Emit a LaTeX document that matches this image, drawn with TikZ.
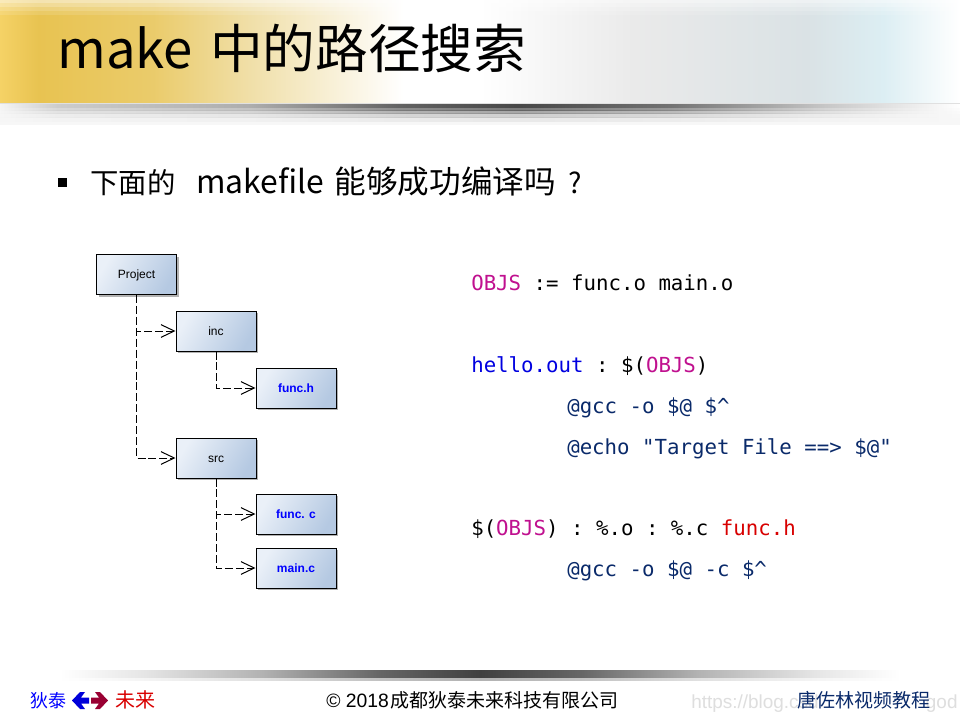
\documentclass[tikz,border=0pt]{standalone}
\usepackage{fontspec}
\setmainfont{Liberation Sans}
\newfontfamily\cjk{Noto Sans CJK SC}
\newfontfamily\codefont{DejaVu Sans Mono}
\usetikzlibrary{arrows.meta,shadows,calc}
\definecolor{kw}{HTML}{C0108F}
\definecolor{tg}{HTML}{0000E0}
\definecolor{cm}{HTML}{0A2A6A}
\definecolor{rd}{HTML}{D80000}
\definecolor{HeadA}{HTML}{F5D266}
\definecolor{HeadB}{HTML}{E8C351}
\definecolor{HeadC}{HTML}{F0DFA8}
\definecolor{HeadD}{HTML}{EAEAEA}
\definecolor{HeadE}{HTML}{DAE2E5}
\definecolor{HeadF}{HTML}{DCEEF3}
\definecolor{boxa}{HTML}{EAF0F8}
\definecolor{boxb}{HTML}{B5C9E2}
\pgfdeclarehorizontalshading{headband}{100bp}{
 color(0bp)=(HeadA);
 color(25bp)=(HeadA);
 color(27bp)=(HeadB);
 color(33bp)=(HeadB!70!HeadC);
 color(38bp)=(HeadC);
 color(46bp)=(white);
 color(50bp)=(white);
 color(58bp)=(HeadD);
 color(67bp)=(HeadE);
 color(71bp)=(HeadF);
 color(75bp)=(white);
 color(100bp)=(white)}
\pgfdeclarehorizontalshading{bandshade}{100bp}{
 color(0bp)=(white);
 color(25bp)=(white);
 color(30bp)=(black!10);
 color(37bp)=(black!30);
 color(44bp)=(black!60);
 color(50bp)=(black!75);
 color(56bp)=(black!60);
 color(63bp)=(black!30);
 color(70bp)=(black!10);
 color(75bp)=(white);
 color(100bp)=(white)}
\pgfdeclarehorizontalshading{headshadow}{100bp}{
 color(0bp)=(white);
 color(25bp)=(black!4);
 color(28bp)=(black!20);
 color(38bp)=(black!32);
 color(46bp)=(black!62);
 color(52bp)=(black!72);
 color(60bp)=(black!55);
 color(68bp)=(black!22);
 color(73bp)=(black!6);
 color(75bp)=(white);
 color(100bp)=(white)}
\tikzset{
 x=0.75pt,y=-0.75pt,
 box/.style={draw=black,line width=0.75pt,minimum width=60pt,minimum height=30pt,inner sep=0pt,
   text height=6.4pt,text depth=0.4pt,
   left color=boxa,right color=boxb,shading angle=60,
   drop shadow={shadow xshift=1.6pt,shadow yshift=-1.6pt,fill=black,opacity=.3},
   font=\fontsize{9}{11}\selectfont},
 filebox/.style={box,text=blue,font=\fontsize{9}{11}\selectfont\bfseries},
 link/.style={draw=black,line width=0.75pt,dash pattern=on 6pt off 2.2pt,-{Straight Barb[length=10pt,width=9.5pt,line width=0.75pt]}},
 code/.style={anchor=base west,inner sep=0pt,font=\codefont\fontsize{15.55}{18}\selectfont\frenchspacing,text=black},
 foot/.style={anchor=base west,inner sep=0pt,font=\cjk\fontsize{14.25}{18}\selectfont},
}
\begin{document}
\begin{tikzpicture}
\useasboundingbox (0,0) rectangle (960,720);
\fill[white] (0,0) rectangle (960,720);
% header
\shade[shading=headband] (0,0) rectangle (960,103);
\fill[white,opacity=.55] (0,0) rectangle (960,3);
\fill[white,opacity=.4] (0,3) rectangle (960,7);
\fill[white,opacity=.25] (0,7) rectangle (960,11);
\fill[white,opacity=.12] (0,11) rectangle (960,15);
% header shadow
\fill[black!3] (0,103) rectangle (960,125);
\fill[black!12] (0,103) rectangle (960,105);
\shade[shading=headshadow] (0,105) rectangle (960,108);
\shade[shading=headshadow,opacity=.7] (0,108) rectangle (960,111);
\shade[shading=headshadow,opacity=.45] (0,111) rectangle (960,114);
\shade[shading=headshadow,opacity=.22] (0,114) rectangle (960,118);
\shade[shading=headshadow,opacity=.08] (0,118) rectangle (960,122);
\node[anchor=base west,inner sep=0pt,font=\cjk\fontsize{39.5}{44}\selectfont] (title) at (57,69) {make\hspace{13pt}中的路径搜索};
% bullet
\fill[black] (58,178) rectangle (67,187);
\node[anchor=base west,inner sep=0pt,font=\cjk\fontsize{21.3}{26}\selectfont] (lead) at (90,194) {下面的\hspace{15.5pt}{\fontsize{23.9}{26}\selectfont makefile}\hspace{8pt}{\fontsize{23.7}{26}\selectfont 能够成功编译吗}\hspace{9.5pt}?};
% tree
\node[box] (project) at (136.5,274.5) {Project};
\node[box] (inc) at (216,331) {inc};
\node[filebox] (funch) at (296,388) {func.h};
\node[box] (src) at (216,458) {src};
\node[filebox] (funcc) at (296,514) {func. c};
\node[filebox] (mainc) at (296,568) {main.c};
\draw[link] (project.south) |- (inc.west);
\draw[link] (project.south) |- (src.west);
\draw[link] (inc.south) |- (funch.west);
\draw[link] (src.south) |- (funcc.west);
\draw[link] (src.south) |- (mainc.west);
% code
\node[code] (c1) at (471,291) {\textcolor{kw}{OBJS} := func.o main.o};
\node[code] (c2) at (471,372) {\textcolor{tg}{hello.out} : \$(\textcolor{kw}{OBJS})};
\node[code,text=cm] (c3) at (567,413) {@gcc -o \$@ \$\textasciicircum};
\node[code,text=cm] (c4) at (567,454) {@echo "Target File ==> \$@"};
\node[code] (c5) at (471,535) {\$(\textcolor{kw}{OBJS}) : \%.o : \%.c \textcolor{rd}{func.h}};
\node[code,text=cm] (c6) at (567,576) {@gcc -o \$@ -c \$\textasciicircum};
% footer
\shade[shading=bandshade] (60,670) rectangle (900,677);
\shade[shading=bandshade,opacity=.4] (60,677) rectangle (900,680);
\node[foot,text=blue,font=\cjk\fontsize{13.5}{18}\selectfont] (ft1) at (30,707) {狄泰};
\fill[blue!85!black] (72,700.5) -- (80,692) -- (85,692) -- (81,697.5) -- (89,697.5) -- (89,703.5) -- (81,703.5) -- (85,709) -- (80,709) -- cycle;
\fill[purple!80!black] (108,700.5) -- (100,692) -- (95,692) -- (99,697.5) -- (91,697.5) -- (91,703.5) -- (99,703.5) -- (95,709) -- (100,709) -- cycle;
\node[foot,text=red!85!black,font=\cjk\fontsize{15}{18}\selectfont] (ft2) at (115,707) {未来};
\node[foot,text=black] (ft3) at (326,707) {{\fontsize{14.5}{18}\rmfamily\selectfont © 2018}\hspace{1.5pt}成都狄泰未来科技有限公司};
\node[anchor=base west,inner sep=0pt,text=black!13,font=\fontsize{14.2}{18}\selectfont] (wm) at (691,708) {https://blog.csd\hspace{80.5pt}god};
\node[foot,text=cm] (ft4) at (797,707) {唐佐林视频教程};
\end{tikzpicture}
\end{document}
